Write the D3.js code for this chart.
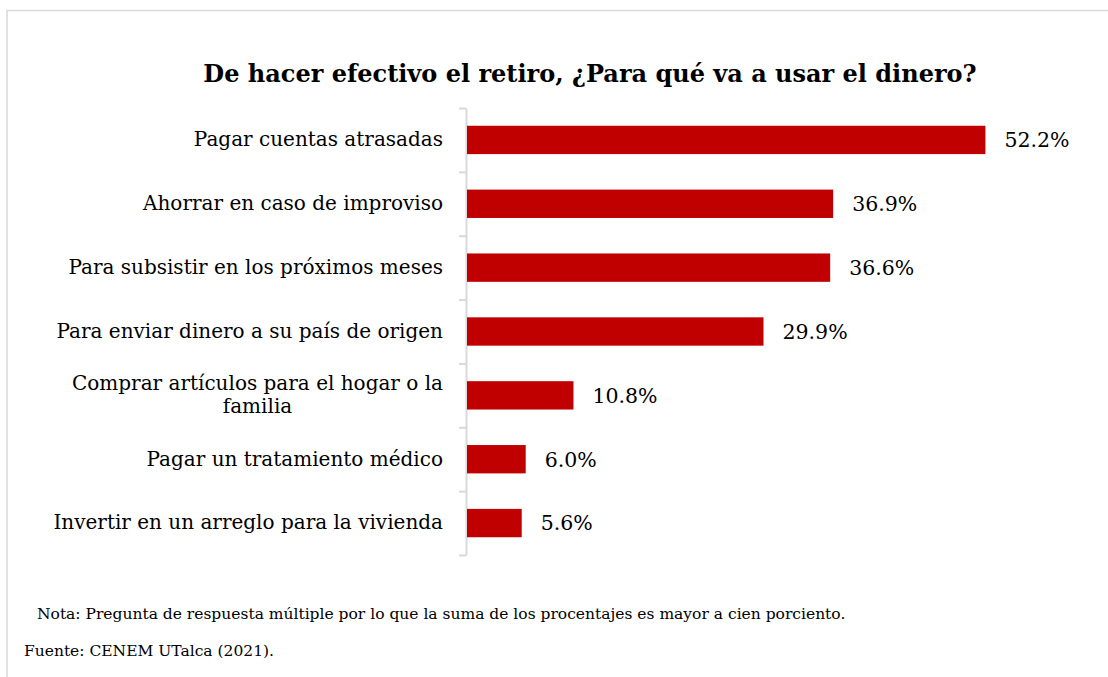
<!DOCTYPE html>
<html>
<head>
<meta charset="utf-8">
<script src="https://cdn.jsdelivr.net/npm/d3@7"></script>
<style>
  body { margin: 0; background: #fff; }
  text { font-family: "DejaVu Serif", serif; fill: #000; }
</style>
</head>
<body>
<div id="chart-area"></div>
<script>
// data
const categories = [
  "Pagar cuentas atrasadas",
  "Ahorrar en caso de improviso",
  "Para subsistir en los próximos meses",
  "Para enviar dinero a su país de origen",
  "Comprar artículos para el hogar o la familia",
  "Pagar un tratamiento médico",
  "Invertir en un arreglo para la vivienda"
]
const values = [52.2, 36.9, 36.6, 29.9, 10.8, 6.0, 5.6]
const title = "De hacer efectivo el retiro, ¿Para qué va a usar el dinero?"
const nota = "Nota: Pregunta de respuesta múltiple por lo que la suma de los procentajes es mayor a cien porciento."
const fuente = "Fuente: CENEM UTalca (2021)."

const W = 1108, H = 677
const MARGIN = { LEFT: 466, RIGHT: 45, TOP: 108, BOTTOM: 122 }
const WIDTH = W - MARGIN.LEFT - MARGIN.RIGHT
const HEIGHT = H - MARGIN.TOP - MARGIN.BOTTOM

const svg = d3.select("#chart-area").append("svg")
  .attr("width", W)
  .attr("height", H)

// outer frame (only top and left edges visible)
svg.append("rect")
  .attr("x", 7).attr("y", 10.5)
  .attr("width", W).attr("height", H)
  .attr("fill", "none")
  .attr("stroke", "#d9d9d9")
  .attr("stroke-width", 1.5)

svg.append("text")
  .attr("x", 590).attr("y", 82)
  .attr("text-anchor", "middle")
  .attr("font-size", "24px")
  .attr("font-weight", "bold")
  .text(title)

const group = svg.append("g")
  .attr("transform", `translate(${MARGIN.LEFT}, ${MARGIN.TOP})`)

const x = d3.scaleLinear()
  .domain([0, 60])
  .range([0, 597])

const y = d3.scaleBand()
  .domain(categories)
  .range([0, HEIGHT])
  .paddingInner(0.556)
  .paddingOuter(0.278)

// boundary ticks between categories
const yEdges = d3.scaleLinear().domain([0, categories.length]).range([0, HEIGHT])
const edgeAxis = group.append("g")
  .call(d3.axisLeft(yEdges).ticks(categories.length).tickSize(7).tickFormat("").tickSizeOuter(0))
edgeAxis.select(".domain").attr("stroke", "#d9d9d9").attr("stroke-width", 2)
edgeAxis.selectAll(".tick line").attr("stroke", "#d9d9d9").attr("stroke-width", 2)

// category labels
const labelAxis = group.append("g")
  .call(d3.axisLeft(y).tickSize(0).tickPadding(23))
labelAxis.select(".domain").remove()
labelAxis.selectAll("text")
  .attr("font-family", "DejaVu Serif")
  .attr("font-size", "20px")
  .attr("fill", "#000")
  .each(function(d) { wrap(d3.select(this), 405) })

function wrap(text, maxW) {
  const words = text.text().split(" ")
  const lines = []
  let line = []
  text.text(null)
  const probe = text.append("tspan")
  words.forEach(w => {
    line.push(w)
    probe.text(line.join(" "))
    if (probe.node().getComputedTextLength() > maxW && line.length > 1) {
      line.pop()
      lines.push(line.join(" "))
      line = [w]
    }
  })
  lines.push(line.join(" "))
  probe.remove()
  if (lines.length === 1) { text.text(lines[0]); return }
  // multi-line: centred block, right edge at the usual spot
  text.text(lines[0])
  const blockW = text.node().getComputedTextLength()
  text.text(null)
  const xr = +text.attr("x")
  text.attr("text-anchor", "middle").attr("dy", null)
  const lh = 23
  lines.forEach((l, i) => {
    text.append("tspan")
      .attr("x", xr - blockW / 2)
      .attr("y", (i - (lines.length - 1) / 2) * lh)
      .attr("dy", "0.32em")
      .text(l)
  })
}

// bars
group.selectAll("rect.bar")
  .data(values)
  .enter().append("rect")
  .attr("class", "bar")
  .attr("x", x(0) + 1)
  .attr("y", (d, i) => y(categories[i]))
  .attr("width", d => x(d) - x(0) - 1)
  .attr("height", y.bandwidth())
  .attr("fill", "#c00000")

// value labels
group.selectAll("text.val")
  .data(values)
  .enter().append("text")
  .attr("class", "val")
  .attr("x", d => x(d) + 19)
  .attr("y", (d, i) => y(categories[i]) + y.bandwidth() / 2)
  .attr("dy", "0.36em")
  .attr("font-size", "20.5px")
  .text(d => d.toFixed(1) + "%")

// footnotes
svg.append("text")
  .attr("x", 37).attr("y", 619)
  .attr("font-size", "15.5px")
  .text(nota)
svg.append("text")
  .attr("x", 24).attr("y", 656)
  .attr("font-size", "15.5px")
  .text(fuente)
</script>
</body>
</html>
